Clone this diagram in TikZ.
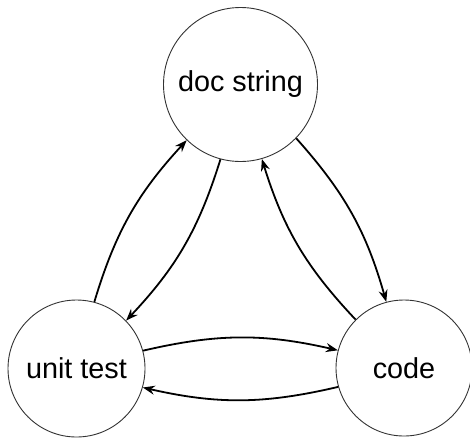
\documentclass[tikz,border=0pt]{standalone}
\usepackage{fontspec}
\setmainfont{Liberation Sans}
\usetikzlibrary{arrows.meta}
\begin{document}
\begin{tikzpicture}[x=1pt,y=-1pt,
  stage/.style={circle,draw=black!80,line width=0.9pt,inner sep=0pt,
    font=\fontsize{28.8}{30}\selectfont},
  flow/.style={line width=1.8pt,-{Stealth[length=12pt,width=9pt,inset=4pt]},
    bend left=13}]
  \useasboundingbox (0,0) rectangle (470,437);
  \node[stage,minimum size=154pt] (ds) at (240.5,84.5) {doc string};
  \node[stage,minimum size=137pt] (ut) at (76.5,368.5) {unit test};
  \node[stage,minimum size=136pt] (cd) at (404,368) {code};
  \draw[flow] (ut.75) to (ds.-134);
  \draw[flow] (ds.-105) to (ut.44);
  \draw[flow] (ds.-44.5) to (cd.105);
  \draw[flow] (cd.135) to (ds.-74.7);
  \draw[flow] (ut.15.3) to (cd.165);
  \draw[flow] (cd.196) to (ut.-16);
\end{tikzpicture}
\end{document}
